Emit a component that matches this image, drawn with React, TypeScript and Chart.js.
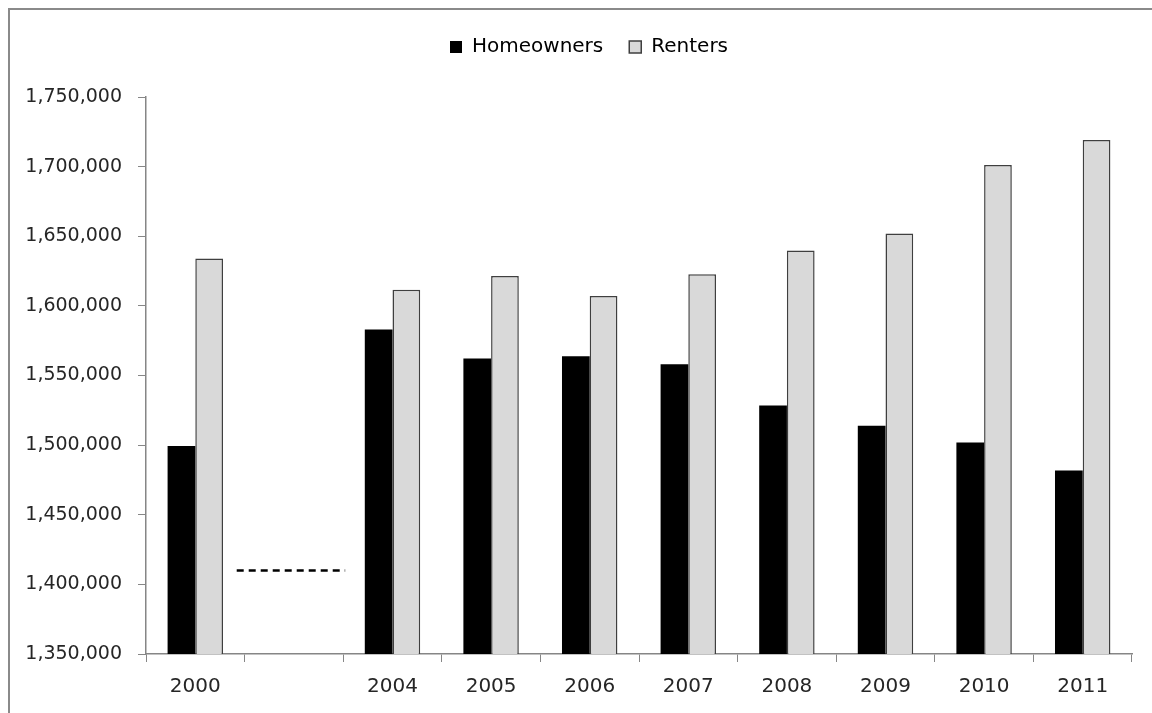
import { useEffect, useRef } from 'react';
import { Chart, registerables } from 'chart.js';

Chart.register(...registerables);

// Household counts by tenure; the blank category marks the 2001-2003 break in the series
const years = ['2000', '', '2004', '2005', '2006', '2007', '2008', '2009', '2010', '2011'];
const homeowners = [1499400, null, 1583000, 1562200, 1563800, 1558100, 1528500, 1514000, 1501800, 1481800];
const renters = [1634000, null, 1611600, 1621400, 1607100, 1622800, 1639700, 1651900, 1701100, 1719200];

// Value axis range and step
const yMin = 1350000;
const yMax = 1750000;
const yStep = 50000;

// Dashed marker drawn across the empty category
const breakIndex = 1;
const breakLevel = 1410000;

const AXIS = '#868686';
const FONT = "'DejaVu Sans', sans-serif";
const LEGEND_BAND = 86;

const breakMarker = {
  id: 'breakMarker',
  afterDatasetsDraw(chart: any) {
    const xs = chart.scales.x;
    const ys = chart.scales.y;
    const ctx = chart.ctx;
    const step = xs.getPixelForValue(1) - xs.getPixelForValue(0);
    const cx = xs.getPixelForValue(breakIndex) - step * 0.03;
    const half = step * 0.55;
    const py = ys.getPixelForValue(breakLevel);
    ctx.save();
    ctx.setLineDash([7, 5]);
    ctx.lineWidth = 2.5;
    ctx.strokeStyle = '#000';
    ctx.beginPath();
    ctx.moveTo(cx - half, py);
    ctx.lineTo(cx + half, py);
    ctx.stroke();
    ctx.restore();
  },
};

// Gives the legend a fixed-height band and centres it on the whole canvas
const legendBand = {
  id: 'legendBand',
  beforeLayout(chart: any) {
    const lg = chart.legend;
    if (lg && !lg.__banded) {
      const fit = lg.fit.bind(lg);
      lg.fit = function () {
        fit();
        this.height = LEGEND_BAND;
      };
      lg.__banded = true;
    }
  },
  afterLayout(chart: any) {
    const lg = chart.legend;
    if (!lg) return;
    lg.left = 0;
    lg.right = chart.width;
    lg.width = chart.width;
  },
};

export default function App() {
  const canvasRef = useRef<HTMLCanvasElement | null>(null);

  useEffect(() => {
    if (!canvasRef.current) return;
    const chart = new Chart(canvasRef.current, {
      type: 'bar',
      data: {
        labels: years,
        datasets: [
          {
            label: 'Homeowners',
            data: homeowners,
            backgroundColor: '#000000',
            borderColor: '#000000',
            borderWidth: 0,
            categoryPercentage: 0.562,
            barPercentage: 1,
          },
          {
            label: 'Renters',
            data: renters,
            backgroundColor: '#d9d9d9',
            borderColor: '#3f3f3f',
            borderWidth: 1.5,
            categoryPercentage: 0.562,
            barPercentage: 1,
          },
        ],
      },
      options: {
        responsive: false,
        animation: false,
        layout: { padding: { top: 1, right: 36, left: 0, bottom: 0 } },
        plugins: {
          legend: {
            position: 'top',
            labels: {
              boxWidth: 12,
              boxHeight: 12,
              padding: 26,
              color: '#000',
              font: { family: FONT, size: 20 },
            },
          },
          tooltip: { enabled: false },
        },
        scales: {
          x: {
            grid: {
              drawOnChartArea: false,
              drawTicks: true,
              tickLength: 8,
              color: AXIS,
              offset: true,
            },
            border: { color: AXIS, width: 1.5 },
            ticks: {
              color: '#262626',
              padding: 13,
              font: { family: FONT, size: 20 },
            },
            afterFit(scale: any) {
              scale.height = 74;
            },
          },
          y: {
            min: yMin,
            max: yMax,
            grid: {
              drawOnChartArea: false,
              drawTicks: true,
              tickLength: 8,
              color: AXIS,
            },
            border: { color: AXIS, width: 1.5 },
            ticks: {
              stepSize: yStep,
              color: '#262626',
              padding: 16,
              font: { family: FONT, size: 19 },
              callback: (v: any) => Number(v).toLocaleString('en-US'),
            },
            afterFit(scale: any) {
              scale.width = 136;
            },
          },
        },
      },
      plugins: [legendBand, breakMarker],
    });
    return () => chart.destroy();
  }, []);

  return (
    <div
      style={{
        position: 'fixed',
        left: 8,
        top: 8,
        width: 1144,
        height: 705,
        overflow: 'hidden',
        background: '#fff',
      }}
    >
      <div
        style={{
          width: 1158,
          height: 718,
          borderLeft: '2px solid #8a8a8a',
          borderTop: '2px solid #8a8a8a',
          background: '#fff',
        }}
      >
        <canvas ref={canvasRef} width={1158} height={718} style={{ display: 'block', width: 1158, height: 718 }} />
      </div>
    </div>
  );
}
